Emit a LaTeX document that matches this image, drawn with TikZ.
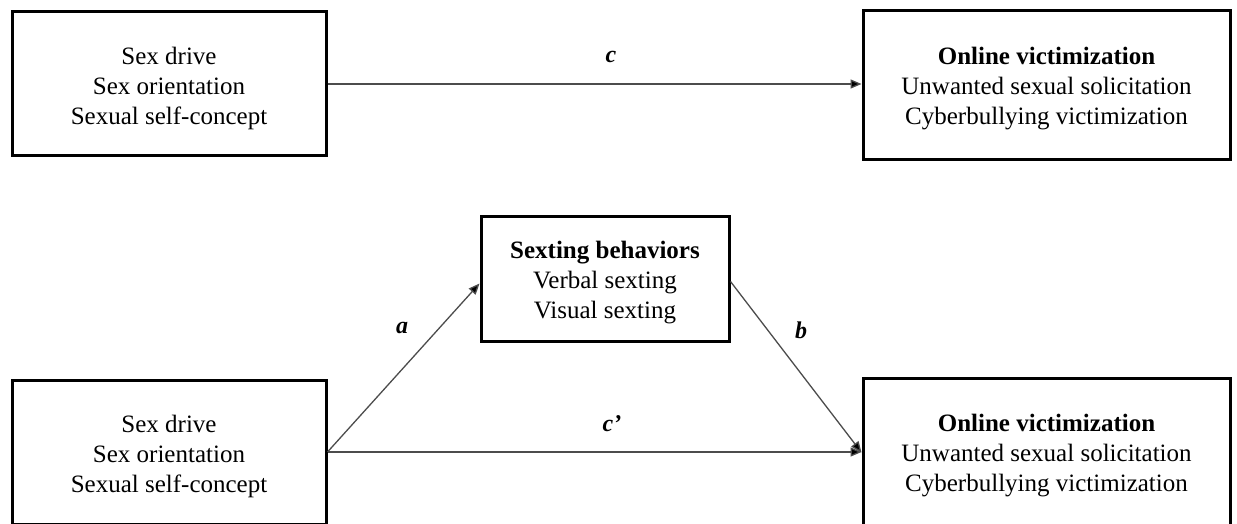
\documentclass[tikz,border=0pt]{standalone}
\usepackage{fontspec}
\setmainfont{Liberation Serif}
\usetikzlibrary{arrows.meta,calc}
\tikzset{
  box/.style={draw=black, line width=3pt, fill=white, inner sep=0pt},
  txt/.style={align=center, inner sep=0pt, font=\fontsize{25}{30}\selectfont},
  conn/.style={draw=black!70, line width=1.3pt, -{Triangle[length=11pt,width=9pt,fill=black]}},
  lbl/.style={font=\fontsize{24}{28}\selectfont\bfseries\itshape, inner sep=0pt}
}
\begin{document}
\begin{tikzpicture}[x=1pt,y=-1pt]
\useasboundingbox (0,0) rectangle (1237,524);
\clip (0,0) rectangle (1237,524);
\node[box, minimum width=314pt, minimum height=144pt] (tl) at (169,84) {};
\node[txt] (tlt) at ($(tl)+(0,4)$) {Sex drive\\Sex orientation\\Sexual self-concept};
\node[box, minimum width=367pt, minimum height=149pt] (tr) at (1046.5,85.5) {};
\node[txt] (trt) at ($(tr)+(0,3)$) {\textbf{Online victimization}\\Unwanted sexual solicitation\\Cyberbullying victimization};
\node[box, minimum width=248pt, minimum height=125pt] (mid) at (605,278.5) {};
\node[txt] (midt) at ($(mid)+(0,4)$) {\textbf{Sexting behaviors}\\Verbal sexting\\Visual sexting};
\node[box, minimum width=314pt, minimum height=144pt] (bl) at (169,452) {};
\node[txt] (blt) at ($(bl)+(0,4)$) {Sex drive\\Sex orientation\\Sexual self-concept};
\node[box, minimum width=367pt, minimum height=149pt] (br) at (1046.5,452.5) {};
\node[txt] (brt) at ($(br)+(0,3)$) {\textbf{Online victimization}\\Unwanted sexual solicitation\\Cyberbullying victimization};
\draw[conn] (tl.east) -- (tl.east -| tr.west);
\draw[conn] (bl.east) -- ($(mid.west)+(0,5)$);
\draw[conn] ($(mid.east)+(0,3)$) -- (br.west);
\draw[conn] (bl.east) -- (bl.east -| br.west);
\node[lbl] (lc) at (611,57) {c};
\node[lbl] (la) at (402,328) {a};
\node[lbl] (lb) at (801,330) {b};
\node[lbl] (lcp) at (612,424) {c’};
\end{tikzpicture}
\end{document}
